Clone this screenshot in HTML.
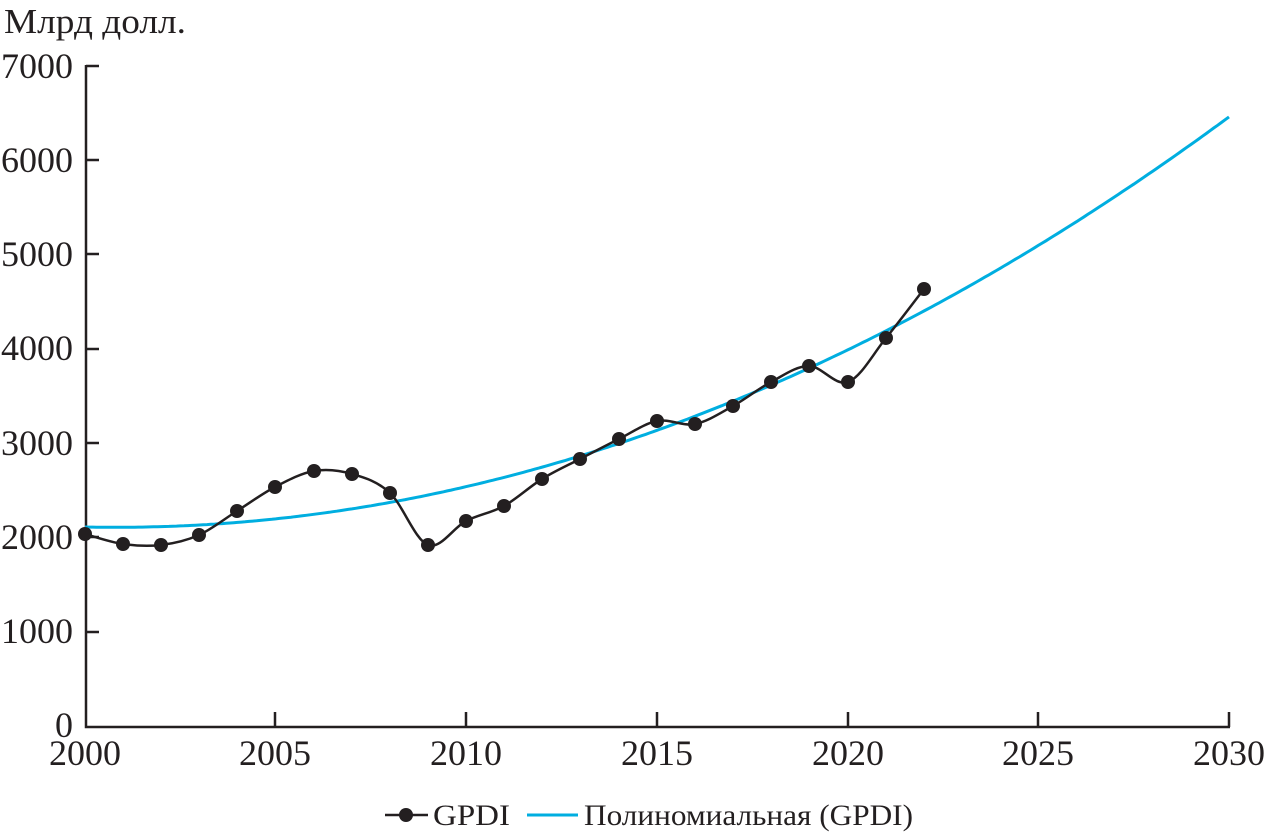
<!DOCTYPE html>
<html><head><meta charset="utf-8"><style>
body{margin:0;background:#fff}
svg{display:block}
text{font-family:"Liberation Serif",serif;fill:#231f20}
</style></head><body>
<svg id="s" width="1266" height="832" viewBox="0 0 1266 832" xmlns="http://www.w3.org/2000/svg">
<text x="4" y="33" font-size="35" textLength="182" lengthAdjust="spacingAndGlyphs">Млрд долл.</text>
<g font-size="36" text-anchor="end">
<text x="73" y="78">7000</text><text x="73" y="172">6000</text><text x="73" y="266">5000</text>
<text x="73" y="360">4000</text><text x="73" y="455">3000</text><text x="73" y="549">2000</text>
<text x="73" y="643">1000</text><text x="73" y="737">0</text>
</g>
<g font-size="36" text-anchor="middle">
<text x="85" y="765">2000</text><text x="275" y="765">2005</text><text x="466" y="765">2010</text>
<text x="657" y="765">2015</text><text x="848" y="765">2020</text><text x="1038" y="765">2025</text>
<text x="1229" y="765">2030</text>
</g>
<g stroke="#231f20" stroke-width="2.5" fill="none">
<path d="M86 65V727H1230"/>
<path d="M86 66H99M86 160H99M86 254H99M86 349H99M86 443H99M86 537H99M86 632H99"/>
<path d="M275 727V712M466 727V712M657 727V712M848 727V712M1038 727V712M1229 727V712"/>
</g>
<path id="trend" stroke="#00aee0" stroke-width="3" fill="none"/>
<path id="gp" stroke="#231f20" stroke-width="2.5" fill="none"/>
<g id="dots" fill="#231f20"></g>
<path d="M385 815H428" stroke="#231f20" stroke-width="2.5"/>
<circle cx="406" cy="815" r="7" fill="#231f20"/>
<text x="433" y="825" font-size="30" textLength="77" lengthAdjust="spacingAndGlyphs">GPDI</text>
<path d="M527 815H578" stroke="#00aee0" stroke-width="3"/>
<text x="584" y="825" font-size="30" textLength="329" lengthAdjust="spacingAndGlyphs">Полиномиальная (GPDI)</text>
</svg>
<script>
var P=[[85,534],[123,544],[161,545],[199,535],[237,511],[275,487],[314,471],[352,474],[390,493],[428,545],[466,521],[504,506],[542,479],[580,459],[619,439],[657,421],[695,424],[733,406],[771,382],[809,366],[848,382],[886,338],[924,289]];
var d="M"+P[0][0]+" "+P[0][1];
for(var i=0;i<P.length-1;i++){var p0=P[Math.max(i-1,0)],p1=P[i],p2=P[i+1],p3=P[Math.min(i+2,P.length-1)];
d+=" C"+(p1[0]+(p2[0]-p0[0])/6)+" "+(p1[1]+(p2[1]-p0[1])/6)+" "+(p2[0]-(p3[0]-p1[0])/6)+" "+(p2[1]-(p3[1]-p1[1])/6)+" "+p2[0]+" "+p2[1];}
document.getElementById("gp").setAttribute("d",d);
var g="";P.forEach(function(p){g+='<circle cx="'+p[0]+'" cy="'+p[1]+'" r="7"/>';});
document.getElementById("dots").innerHTML=g;
var t="";for(var k=0;k<=300;k++){var tt=k/10;var x=85+tt*38.133;var y=527-0.4817*tt*tt+0.78*tt;t+=(k?"L":"M")+x.toFixed(1)+" "+y.toFixed(1);}
document.getElementById("trend").setAttribute("d",t);
</script>
</body></html>
